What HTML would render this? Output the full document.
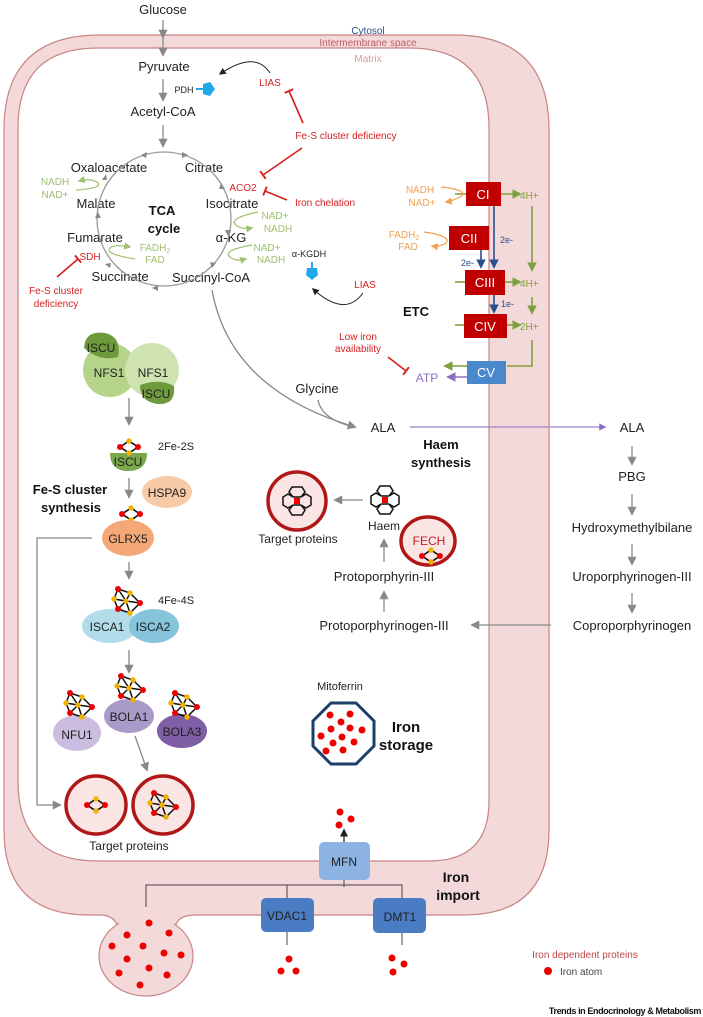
<!DOCTYPE html>
<html><head><meta charset="utf-8"><style>
html,body{margin:0;padding:0;background:#fff;}
svg{display:block;font-family:"Liberation Sans",sans-serif;}
</style></head><body>
<svg width="703" height="1017" viewBox="0 0 703 1017" xmlns="http://www.w3.org/2000/svg">
<defs>
<marker id="ag" viewBox="0 0 10 10" refX="8" refY="5" markerWidth="7" markerHeight="7" orient="auto"><path d="M0,0 L10,5 L0,10z" fill="#888"/></marker>
<marker id="ak" viewBox="0 0 10 10" refX="8" refY="5" markerWidth="7" markerHeight="7" orient="auto"><path d="M0,0 L10,5 L0,10z" fill="#222"/></marker>
<marker id="agr" viewBox="0 0 10 10" refX="8" refY="5" markerWidth="6" markerHeight="6" orient="auto"><path d="M0,0 L10,5 L0,10z" fill="#7fa040"/></marker>
<marker id="agl" viewBox="0 0 10 10" refX="8" refY="5" markerWidth="6" markerHeight="6" orient="auto"><path d="M0,0 L10,5 L0,10z" fill="#9ec070"/></marker>
<marker id="aor" viewBox="0 0 10 10" refX="8" refY="5" markerWidth="6" markerHeight="6" orient="auto"><path d="M0,0 L10,5 L0,10z" fill="#f0a050"/></marker>
<marker id="abl" viewBox="0 0 10 10" refX="8" refY="5" markerWidth="6" markerHeight="6" orient="auto"><path d="M0,0 L10,5 L0,10z" fill="#2a4f8a"/></marker>
<marker id="apu" viewBox="0 0 10 10" refX="8" refY="5" markerWidth="6" markerHeight="6" orient="auto"><path d="M0,0 L10,5 L0,10z" fill="#8c6fc0"/></marker>
<marker id="tr" viewBox="0 0 10 10" refX="5" refY="5" markerWidth="6" markerHeight="6" orient="auto"><path d="M5,0 L5,10" stroke="#d42020" stroke-width="2"/></marker>
<g id="c2">
<path d="M-9,0 L0,-6 L9,0 L0,6z" fill="none" stroke="#111" stroke-width="1.6"/>
<circle cx="-9" cy="0" r="3" fill="#e00"/><circle cx="9" cy="0" r="3" fill="#e00"/>
<circle cx="0" cy="-6" r="2.7" fill="#f0b400"/><circle cx="0" cy="6" r="2.7" fill="#f0b400"/>
</g>
<g id="c4">
<path d="M-10,-12 L2,-8 L12,2 L2,12 L-10,8 L-14,-2z M-10,-12 L-2,0 L2,12 M-14,-2 L-2,0 L12,2 M2,-8 L-2,0 L-10,8" fill="none" stroke="#111" stroke-width="1.5"/>
<circle cx="-10" cy="-12" r="3" fill="#e00"/><circle cx="2" cy="-8" r="2.7" fill="#f0b400"/>
<circle cx="12" cy="2" r="3" fill="#e00"/><circle cx="2" cy="12" r="2.7" fill="#f0b400"/>
<circle cx="-10" cy="8" r="3" fill="#e00"/><circle cx="-14" cy="-2" r="2.7" fill="#f0b400"/>
<circle cx="-2" cy="0" r="2.7" fill="#f0b400"/>
</g>
<g id="hm" fill="none" stroke="#111" stroke-width="1.5">
<path d="M-4,-4 L-8,-9 L-5,-14 L1,-14 M4,-4 L8,-9 L5,-14 L-1,-14 M-4,4 L-8,9 L-5,14 L1,14 M4,4 L8,9 L5,14 L-1,14 M-4,-4 L-9,-7 L-14,-4 L-14,4 L-9,7 L-4,4 M4,-4 L9,-7 L14,-4 L14,4 L9,7 L4,4 M-4,-4 L4,-4 M-4,4 L4,4"/>
<rect x="-3" y="-3" width="6" height="6" fill="#e00" stroke="none"/>
</g>
</defs>

<!-- membranes -->
<path d="M100,35 H454 Q549,35 549,130 V830 Q549,915 464,915 H195 C180,915 175,922 175,930 L118,930 C118,922 112,915 100,915 H89 Q4,915 4,830 V130 Q4,35 100,35Z" fill="#f3d9d9" stroke="#c98484" stroke-width="1.2"/>
<ellipse cx="146" cy="956" rx="47" ry="40" fill="#f3d9d9" stroke="#c98484" stroke-width="1.2"/>
<rect x="119" y="912" width="55" height="20" fill="#f3d9d9"/>
<path d="M98,48 H409 Q489,48 489,128 V801 Q489,861 429,861 H98 Q18,861 18,781 V128 Q18,48 98,48Z" fill="#fff" stroke="#c98484" stroke-width="1.2"/>

<g font-size="13" fill="#222" text-anchor="middle">
<text x="163" y="14">Glucose</text>
<text x="164" y="71">Pyruvate</text>
<text x="163" y="116">Acetyl-CoA</text>
<text x="109" y="172">Oxaloacetate</text>
<text x="204" y="172">Citrate</text>
<text x="96" y="208">Malate</text>
<text x="232" y="208">Isocitrate</text>
<text x="95" y="242">Fumarate</text>
<text x="231" y="242">α-KG</text>
<text x="120" y="281">Succinate</text>
<text x="211" y="282">Succinyl-CoA</text>
<text x="317" y="393">Glycine</text>
<text x="383" y="432">ALA</text>
<text x="632" y="432">ALA</text>
<text x="632" y="481">PBG</text>
<text x="632" y="532">Hydroxymethylbilane</text>
<text x="632" y="581">Uroporphyrinogen-III</text>
<text x="632" y="630">Coproporphyrinogen</text>
<text x="384" y="630">Protoporphyrinogen-III</text>
<text x="384" y="581">Protoporphyrin-III</text>
</g>
<g font-size="12" fill="#222" text-anchor="middle">
<text x="384" y="530">Haem</text>
<text x="298" y="543">Target proteins</text>
<text x="129" y="850">Target proteins</text>
<text x="340" y="690" font-size="11">Mitoferrin</text>
<text x="176" y="450" font-size="11">2Fe-2S</text>
<text x="176" y="604" font-size="11">4Fe-4S</text>
</g>
<g font-size="10" text-anchor="middle">
<text x="368" y="34" fill="#2a4f8a">Cytosol</text>
<text x="368" y="46" fill="#c06060">Intermembrane space</text>
<text x="368" y="62" fill="#e09a9a">Matrix</text>
</g>
<g font-weight="bold" font-size="13" fill="#111" text-anchor="middle">
<text x="162" y="215">TCA</text><text x="164" y="233">cycle</text>
<text x="416" y="316">ETC</text>
<text x="441" y="449">Haem</text><text x="441" y="467">synthesis</text>
<text x="70" y="494">Fe-S cluster</text><text x="71" y="512">synthesis</text>
<text x="406" y="732" font-size="15">Iron</text><text x="406" y="750" font-size="15">storage</text>
<text x="456" y="882" font-size="14">Iron</text><text x="458" y="900" font-size="14">import</text>
</g>

<g stroke="#888" stroke-width="1.3" fill="none">
<line x1="163" y1="20" x2="163" y2="37" marker-end="url(#ag)"/>
<line x1="163" y1="35" x2="163" y2="55" marker-end="url(#ag)"/>
<line x1="163" y1="79" x2="163" y2="100" marker-end="url(#ag)"/>
<line x1="163" y1="125" x2="163" y2="146" marker-end="url(#ag)"/>
<circle cx="164" cy="219" r="67" stroke="#999"/>
<path d="M212,290 Q230,390 355,427" marker-end="url(#ag)"/>
<path d="M318,400 Q322,420 355,427"/>
<line x1="632" y1="446" x2="632" y2="464" marker-end="url(#ag)"/>
<line x1="632" y1="494" x2="632" y2="514" marker-end="url(#ag)"/>
<line x1="632" y1="544" x2="632" y2="564" marker-end="url(#ag)"/>
<line x1="632" y1="593" x2="632" y2="612" marker-end="url(#ag)"/>
<line x1="551" y1="625" x2="472" y2="625" marker-end="url(#ag)"/>
<line x1="384" y1="612" x2="384" y2="592" marker-end="url(#ag)"/>
<line x1="384" y1="562" x2="384" y2="540" marker-end="url(#ag)"/>
<line x1="363" y1="500" x2="335" y2="500" marker-end="url(#ag)"/>
<line x1="129" y1="398" x2="129" y2="424" marker-end="url(#ag)"/>
<line x1="129" y1="478" x2="129" y2="497" marker-end="url(#ag)"/>
<line x1="129" y1="562" x2="129" y2="578" marker-end="url(#ag)"/>
<line x1="129" y1="650" x2="129" y2="672" marker-end="url(#ag)"/>
<line x1="135" y1="736" x2="147" y2="770" marker-end="url(#ag)"/>
<path d="M92,538 H37 V805 H60" marker-end="url(#ag)"/>
</g>
<g fill="#888">
<path d="M141,155 l6,-3 l-1,6z"/><path d="M182,152 l6,3 l-6,3z"/>
<path d="M221,183 l4,6 l-6,0z"/><path d="M231,230 l-3,6 l-3,-6z"/>
<path d="M216,263 l-4,5 l-2,-6z"/><path d="M158,285 l-6,3 l6,3z"/>
<path d="M110,268 l-5,-4 l6,-1z"/><path d="M95,218 l3,-6 l3,6z"/>
<path d="M102,180 l4,-6 l1,6z"/>
</g>
<g stroke="#9ec070" stroke-width="1.2" fill="none">
<path d="M76,190 Q105,188 97,182 Q90,178 79,181" marker-end="url(#agl)"/>
<path d="M258,212 Q230,218 235,224 Q240,230 252,228" marker-end="url(#agl)"/>
<path d="M252,245 Q224,250 229,256 Q234,262 246,259" marker-end="url(#agl)"/>
<path d="M135,259 Q104,254 110,248 Q114,244 130,247" marker-end="url(#agl)"/>
</g>
<g font-size="10" fill="#9ec070" text-anchor="middle">
<text x="55" y="185">NADH</text><text x="55" y="198">NAD+</text>
<text x="275" y="219">NAD+</text><text x="278" y="232">NADH</text>
<text x="267" y="251">NAD+</text><text x="271" y="263">NADH</text>
<text x="155" y="251">FADH<tspan font-size="7" dy="2">2</tspan></text><text x="155" y="263">FAD</text>
</g>
<g font-size="10" fill="#d42020" text-anchor="middle">
<text x="270" y="86">LIAS</text>
<text x="346" y="139">Fe-S cluster deficiency</text>
<text x="243" y="191">ACO2</text>
<text x="325" y="206">Iron chelation</text>
<text x="90" y="260">SDH</text>
<text x="56" y="294">Fe-S cluster</text><text x="56" y="307">deficiency</text>
<text x="365" y="288">LIAS</text>
<text x="358" y="340">Low iron</text><text x="358" y="352">availability</text>
<text x="585" y="958" font-size="10" fill="#c04848">Iron dependent proteins</text>
</g>
<g stroke="#d42020" stroke-width="1.6" fill="none">
<line x1="303" y1="123" x2="289" y2="91" marker-end="url(#tr)"/>
<line x1="302" y1="148" x2="263" y2="175" marker-end="url(#tr)"/>
<line x1="287" y1="200" x2="265" y2="191" marker-end="url(#tr)"/>
<line x1="57" y1="277" x2="78" y2="259" marker-end="url(#tr)"/>
<line x1="388" y1="357" x2="406" y2="371" marker-end="url(#tr)"/>
</g>
<text x="184" y="93" font-size="9" text-anchor="middle" fill="#222">PDH</text>
<line x1="196" y1="89" x2="203" y2="89" stroke="#20a8e8" stroke-width="2"/>
<path d="M203,84 L210,82 L215,89 L210,96 L203,94z" fill="#20a8e8"/>
<text x="309" y="257" font-size="9" text-anchor="middle" fill="#222">α-KGDH</text>
<line x1="312" y1="262" x2="312" y2="268" stroke="#20a8e8" stroke-width="2"/>
<path d="M307,268 L317,268 L318,275 L312,280 L306,275z" fill="#20a8e8"/>
<path d="M270,73 Q255,50 220,74" stroke="#222" fill="none" stroke-width="1" marker-end="url(#ak)"/>
<path d="M363,293 Q345,318 313,289" stroke="#222" fill="none" stroke-width="1" marker-end="url(#ak)"/>

<g stroke="#7fa040" stroke-width="1.6" fill="none">
<line x1="455" y1="194" x2="467" y2="194"/>
<line x1="501" y1="194" x2="520" y2="194" marker-end="url(#agr)"/>
<line x1="532" y1="206" x2="532" y2="270" marker-end="url(#agr)"/>
<line x1="455" y1="282" x2="465" y2="282"/>
<line x1="505" y1="282" x2="520" y2="282" marker-end="url(#agr)"/>
<line x1="532" y1="297" x2="532" y2="313" marker-end="url(#agr)"/>
<line x1="455" y1="325" x2="464" y2="325"/>
<line x1="507" y1="325" x2="520" y2="325" marker-end="url(#agr)"/>
<path d="M532,340 V366 H507"/>
<line x1="467" y1="366" x2="445" y2="366" marker-end="url(#agr)"/>
</g>
<line x1="467" y1="377" x2="448" y2="377" stroke="#8c6fc0" stroke-width="1.6" marker-end="url(#apu)"/>
<g stroke="#2a4f8a" stroke-width="1.6">
<line x1="494" y1="206" x2="494" y2="267" marker-end="url(#abl)"/>
<line x1="481" y1="250" x2="481" y2="267" marker-end="url(#abl)"/>
<line x1="494" y1="295" x2="494" y2="312" marker-end="url(#abl)"/>
</g>
<g font-size="9" fill="#2a4f8a"><text x="500" y="243">2e-</text><text x="461" y="266">2e-</text><text x="501" y="307">1e-</text></g>
<g fill="#c00000">
<rect x="466" y="182" width="35" height="24"/><rect x="449" y="226" width="40" height="24"/>
<rect x="465" y="270" width="40" height="25"/><rect x="464" y="314" width="43" height="24"/>
</g>
<rect x="467" y="361" width="39" height="23" fill="#4a88cc"/>
<g fill="#fff" font-size="13" text-anchor="middle">
<text x="483" y="199">CI</text><text x="469" y="243">CII</text><text x="485" y="287">CIII</text><text x="485" y="331">CIV</text><text x="486" y="377">CV</text>
</g>
<g font-size="10" fill="#7fa040"><text x="520" y="199">4H+</text><text x="520" y="287">4H+</text><text x="520" y="330">2H+</text></g>
<text x="427" y="382" font-size="12" fill="#8c6fc0" text-anchor="middle">ATP</text>
<g font-size="10" fill="#f0a050" text-anchor="middle">
<text x="420" y="193">NADH</text><text x="422" y="206">NAD+</text>
<text x="404" y="238">FADH<tspan font-size="7" dy="2">2</tspan></text><text x="408" y="250">FAD</text>
</g>
<g stroke="#f0a050" stroke-width="1.2" fill="none">
<path d="M441,187 Q470,190 460,197 Q452,201 446,202" marker-end="url(#aor)"/>
<path d="M424,232 Q452,236 446,243 Q440,247 432,246" marker-end="url(#aor)"/>
</g>
<line x1="410" y1="427" x2="605" y2="427" stroke="#9c84c8" stroke-width="1.2" marker-end="url(#apu)"/>

<ellipse cx="297" cy="501" rx="29" ry="29" fill="#fbe4e4" stroke="#b01818" stroke-width="3.5"/>
<use href="#hm" x="297" y="501"/>
<use href="#hm" x="385" y="500"/>
<ellipse cx="428" cy="541" rx="27" ry="24" fill="#fbe4e4" stroke="#b01818" stroke-width="3.5"/>
<text x="429" y="545" font-size="12" fill="#c02020" text-anchor="middle">FECH</text>
<use href="#c2" x="431" y="556"/>

<circle cx="110" cy="370" r="27" fill="#b5d48a"/>
<circle cx="152" cy="370" r="27" fill="#cfe3b0"/>
<path d="M84,348 Q85,330 105,333 Q122,337 118,357 Q100,362 84,348z" fill="#6f9a3c"/>
<path d="M140,385 Q160,378 174,386 Q176,405 158,404 Q140,402 140,385z" fill="#6f9a3c"/>
<g font-size="12" fill="#222" text-anchor="middle">
<text x="101" y="352">ISCU</text><text x="109" y="377">NFS1</text><text x="153" y="377">NFS1</text><text x="156" y="398">ISCU</text>
</g>
<path d="M110,453 H147 Q147,471 128,471 Q110,471 110,453z" fill="#7aa84a"/>
<text x="128" y="466" font-size="12" text-anchor="middle" fill="#222">ISCU</text>
<use href="#c2" x="129" y="447"/>
<ellipse cx="167" cy="492" rx="25" ry="16" fill="#f8cba8"/>
<text x="167" y="497" font-size="12" text-anchor="middle" fill="#222">HSPA9</text>
<use href="#c2" x="131" y="514"/>
<ellipse cx="128" cy="538" rx="26" ry="18" fill="#f4a878"/>
<text x="128" y="543" font-size="12" text-anchor="middle" fill="#222">GLRX5</text>
<ellipse cx="110" cy="626" rx="28" ry="17" fill="#b2dcea"/>
<ellipse cx="154" cy="626" rx="25" ry="17" fill="#86c4dc"/>
<g font-size="12" fill="#222" text-anchor="middle"><text x="107" y="631">ISCA1</text><text x="153" y="631">ISCA2</text></g>
<use href="#c4" x="128" y="601"/>
<ellipse cx="77" cy="733" rx="24" ry="18" fill="#cbbde0"/>
<ellipse cx="129" cy="716" rx="25" ry="17" fill="#a99bc9"/>
<ellipse cx="182" cy="731" rx="25" ry="17" fill="#7e5ea4"/>
<use href="#c4" x="80" y="705"/>
<use href="#c4" x="131" y="688"/>
<use href="#c4" x="185" y="705"/>
<g font-size="12" fill="#222" text-anchor="middle"><text x="77" y="739">NFU1</text><text x="129" y="721">BOLA1</text><text x="182" y="736">BOLA3</text></g>
<ellipse cx="96" cy="805" rx="30" ry="29" fill="#fbe4e4" stroke="#b01818" stroke-width="3.5"/>
<use href="#c2" x="96" y="805"/>
<ellipse cx="163" cy="805" rx="30" ry="29" fill="#fbe4e4" stroke="#b01818" stroke-width="3.5"/>
<use href="#c4" x="164" y="805"/>

<path d="M331,703 H356 L374,721 V746 L356,764 H331 L313,746 V721z" fill="#fff" stroke="#1e3f6a" stroke-width="3"/>
<g fill="#e00">
<circle cx="330" cy="715" r="3.5"/><circle cx="350" cy="714" r="3.5"/><circle cx="341" cy="722" r="3.5"/>
<circle cx="331" cy="729" r="3.5"/><circle cx="350" cy="728" r="3.5"/><circle cx="362" cy="730" r="3.5"/>
<circle cx="321" cy="736" r="3.5"/><circle cx="342" cy="737" r="3.5"/><circle cx="333" cy="743" r="3.5"/>
<circle cx="354" cy="742" r="3.5"/><circle cx="326" cy="751" r="3.5"/><circle cx="343" cy="750" r="3.5"/>
</g>

<g stroke="#444" stroke-width="1" fill="none">
<line x1="344" y1="880" x2="344" y2="887"/>
<path d="M146,907 V885 H402 V900"/>
<line x1="287" y1="885" x2="287" y2="900"/>
<line x1="287" y1="932" x2="287" y2="945"/>
<line x1="402" y1="933" x2="402" y2="945"/>
</g>
<line x1="344" y1="842" x2="344" y2="830" stroke="#111" stroke-width="1.2" marker-end="url(#ak)"/>
<rect x="319" y="842" width="51" height="38" rx="5" fill="#8db3e2"/>
<text x="344" y="866" font-size="12" text-anchor="middle" fill="#222">MFN</text>
<rect x="261" y="898" width="53" height="34" rx="5" fill="#4a7cc4"/>
<text x="287" y="920" font-size="12" text-anchor="middle" fill="#222">VDAC1</text>
<rect x="373" y="898" width="53" height="35" rx="5" fill="#4a7cc4"/>
<text x="400" y="921" font-size="12" text-anchor="middle" fill="#222">DMT1</text>
<g fill="#e00">
<circle cx="340" cy="812" r="3.5"/><circle cx="351" cy="819" r="3.5"/><circle cx="339" cy="825" r="3.5"/>
<circle cx="289" cy="959" r="3.5"/><circle cx="281" cy="971" r="3.5"/><circle cx="296" cy="971" r="3.5"/>
<circle cx="392" cy="958" r="3.5"/><circle cx="404" cy="964" r="3.5"/><circle cx="393" cy="972" r="3.5"/>
<circle cx="149" cy="923" r="3.5"/><circle cx="127" cy="935" r="3.5"/><circle cx="169" cy="933" r="3.5"/>
<circle cx="112" cy="946" r="3.5"/><circle cx="143" cy="946" r="3.5"/><circle cx="164" cy="953" r="3.5"/>
<circle cx="181" cy="955" r="3.5"/><circle cx="127" cy="959" r="3.5"/><circle cx="149" cy="968" r="3.5"/>
<circle cx="119" cy="973" r="3.5"/><circle cx="167" cy="975" r="3.5"/><circle cx="140" cy="985" r="3.5"/>
<circle cx="548" cy="971" r="4"/>
</g>
<text x="560" y="975" font-size="10" fill="#444">Iron atom</text>
<text x="701" y="1014" font-size="9" font-weight="bold" text-anchor="end" fill="#111" letter-spacing="-0.4">Trends in Endocrinology &amp; Metabolism</text>
</svg>
</body></html>
